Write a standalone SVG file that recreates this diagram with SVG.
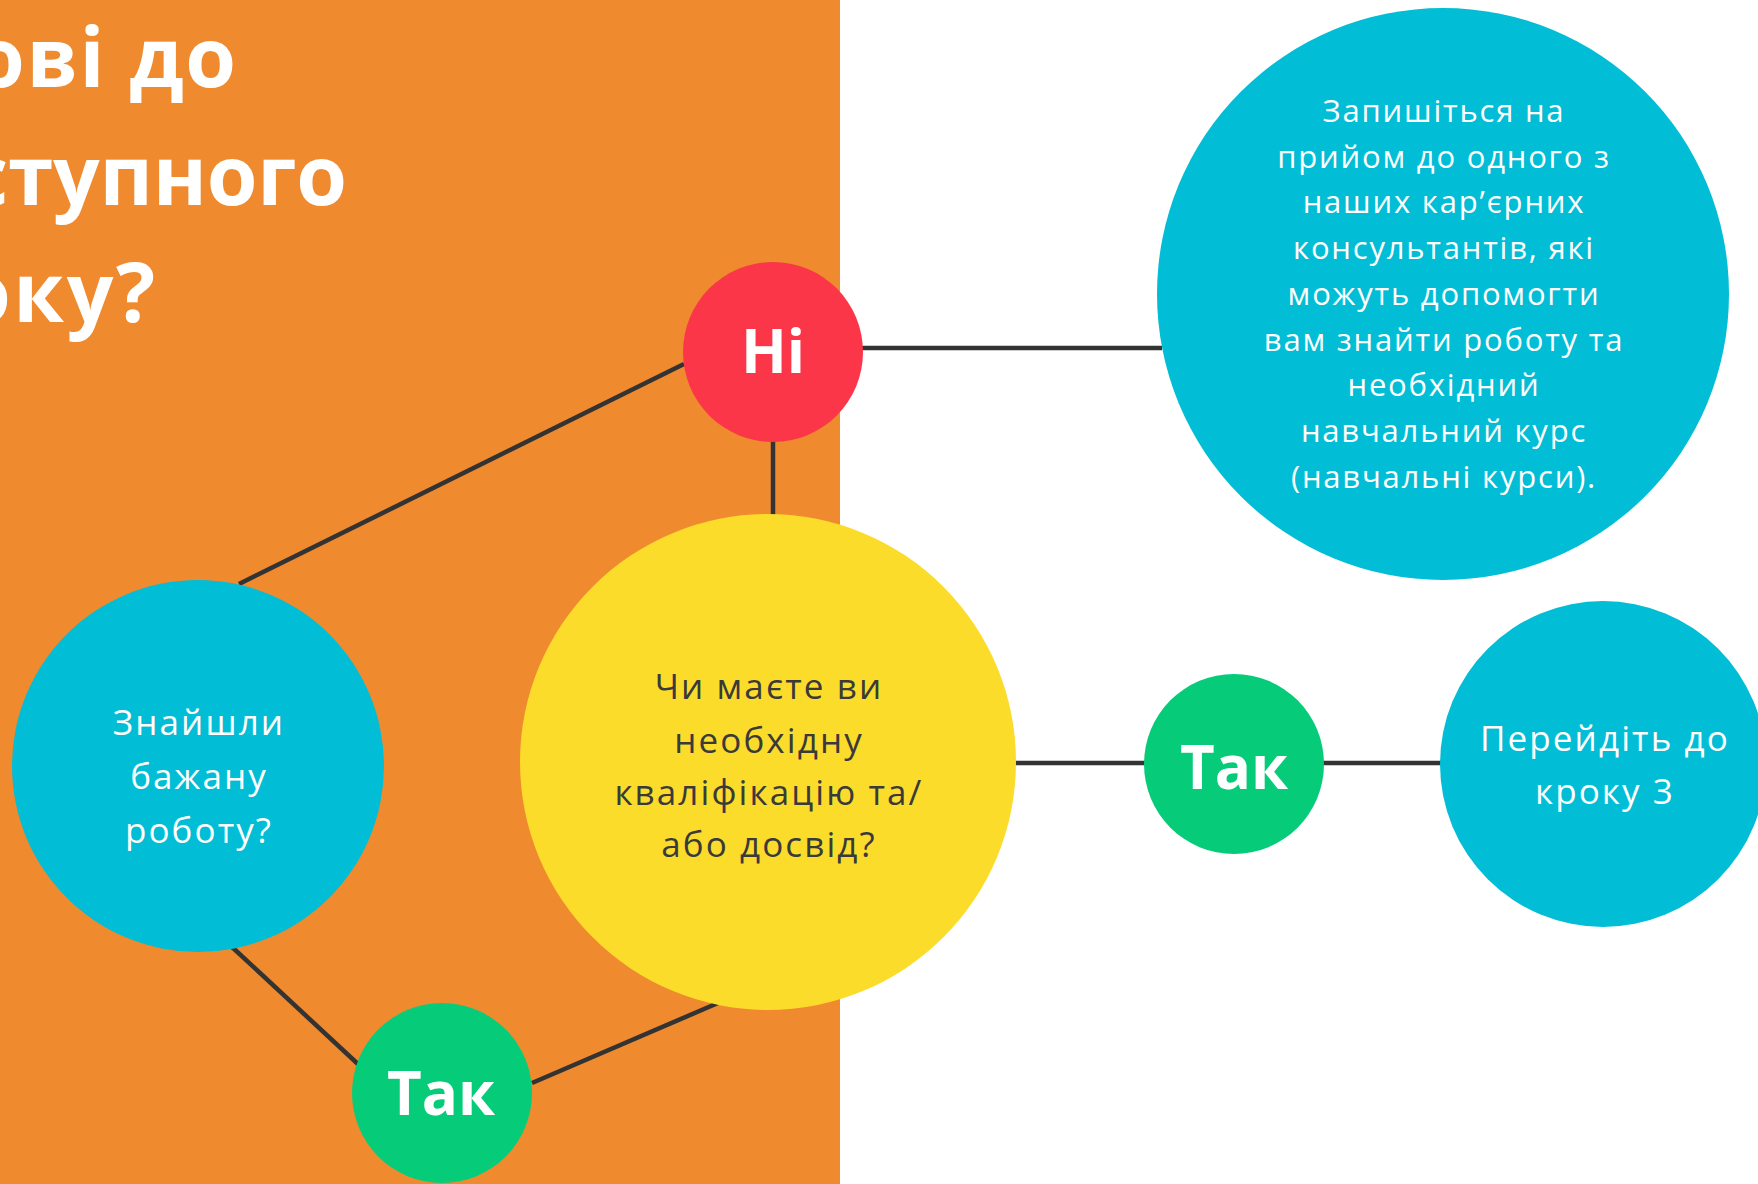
<svg xmlns="http://www.w3.org/2000/svg" width="1758" height="1184" viewBox="0 0 1758 1184">
  <style>
    .title { font-family: "Open Sans", "Liberation Sans", sans-serif; font-weight: 700; font-size: 82px; fill: #ffffff; }
    .badge { font-family: "Open Sans", "Liberation Sans", sans-serif; font-weight: 700; font-size: 60px; fill: #ffffff; text-anchor: middle; }
    .body { font-family: "Open Sans", "Liberation Sans", sans-serif; font-size: 35px; letter-spacing: 2.1px; text-anchor: middle; }
    .light { font-weight: 400; fill: #ffffff; }
    .dark { font-weight: 400; fill: #3a3a3a; }
    .small { font-family: "Open Sans", "Liberation Sans", sans-serif; font-weight: 500; font-size: 31px; letter-spacing: 1.8px; text-anchor: middle; fill: #ffffff; }
    .conn { stroke: #333333; stroke-width: 4.5; fill: none; }
    .cyan { fill: #01BDD5; }
    .red { fill: #FB3648; }
    .yellow { fill: #FCDC2B; }
    .green { fill: #06CC7A; }
  </style>
  <rect x="0" y="0" width="1758" height="1184" fill="#ffffff"/>
  <rect id="background-panel" x="0" y="0" width="840" height="1184" fill="#F08A2F"/>

  <g id="title">
    <text class="title" x="-26" y="87" textLength="262">ові до</text>
    <text class="title" x="-34" y="205" textLength="381">ступного</text>
    <text class="title" x="-40" y="322" textLength="195">оку?</text>
  </g>

  <g id="connectors">
    <line class="conn" x1="684" y1="364" x2="239" y2="584"/>
    <line class="conn" x1="773" y1="440" x2="773" y2="516"/>
    <line class="conn" x1="860" y1="348" x2="1162" y2="348"/>
    <line class="conn" x1="232" y1="947" x2="359" y2="1065"/>
    <line class="conn" x1="532" y1="1083" x2="718" y2="1003"/>
    <line class="conn" x1="1014" y1="763" x2="1146" y2="763"/>
    <line class="conn" x1="1322" y1="763" x2="1443" y2="763"/>
  </g>

  <g id="node-found-job">
    <circle class="cyan" cx="198" cy="766" r="186"/>
    <text class="body light" x="199" y="735">Знайшли</text>
    <text class="body light" x="199" y="789">бажану</text>
    <text class="body light" x="199" y="843">роботу?</text>
  </g>

  <g id="node-no">
    <circle class="red" cx="773" cy="352" r="90"/>
    <text class="badge" x="773" y="373">Ні</text>
  </g>

  <g id="node-qualification">
    <circle class="yellow" cx="768" cy="762" r="248"/>
    <text class="body dark" x="769" y="699">Чи маєте ви</text>
    <text class="body dark" x="769" y="753">необхідну</text>
    <text class="body dark" x="769" y="805">кваліфікацію та/</text>
    <text class="body dark" x="769" y="857">або досвід?</text>
  </g>

  <g id="node-yes-bottom">
    <circle class="green" cx="442" cy="1093" r="90"/>
    <text class="badge" x="441" y="1115">Так</text>
  </g>

  <g id="node-yes-right">
    <circle class="green" cx="1234" cy="764" r="90"/>
    <text class="badge" x="1234" y="789">Так</text>
  </g>

  <g id="node-consultant">
    <circle class="cyan" cx="1443" cy="294" r="286"/>
    <text class="small" x="1444" y="122">Запишіться на</text>
    <text class="small" x="1444" y="168">прийом до одного з</text>
    <text class="small" x="1444" y="213">наших кар’єрних</text>
    <text class="small" x="1444" y="259">консультантів, які</text>
    <text class="small" x="1444" y="305">можуть допомогти</text>
    <text class="small" x="1444" y="351">вам знайти роботу та</text>
    <text class="small" x="1444" y="396">необхідний</text>
    <text class="small" x="1444" y="442">навчальний курс</text>
    <text class="small" x="1444" y="488">(навчальні курси).</text>
  </g>

  <g id="node-step3">
    <circle class="cyan" cx="1603" cy="764" r="163"/>
    <text class="body light" x="1605" y="751">Перейдіть до</text>
    <text class="body light" x="1605" y="804">кроку 3</text>
  </g>
</svg>
